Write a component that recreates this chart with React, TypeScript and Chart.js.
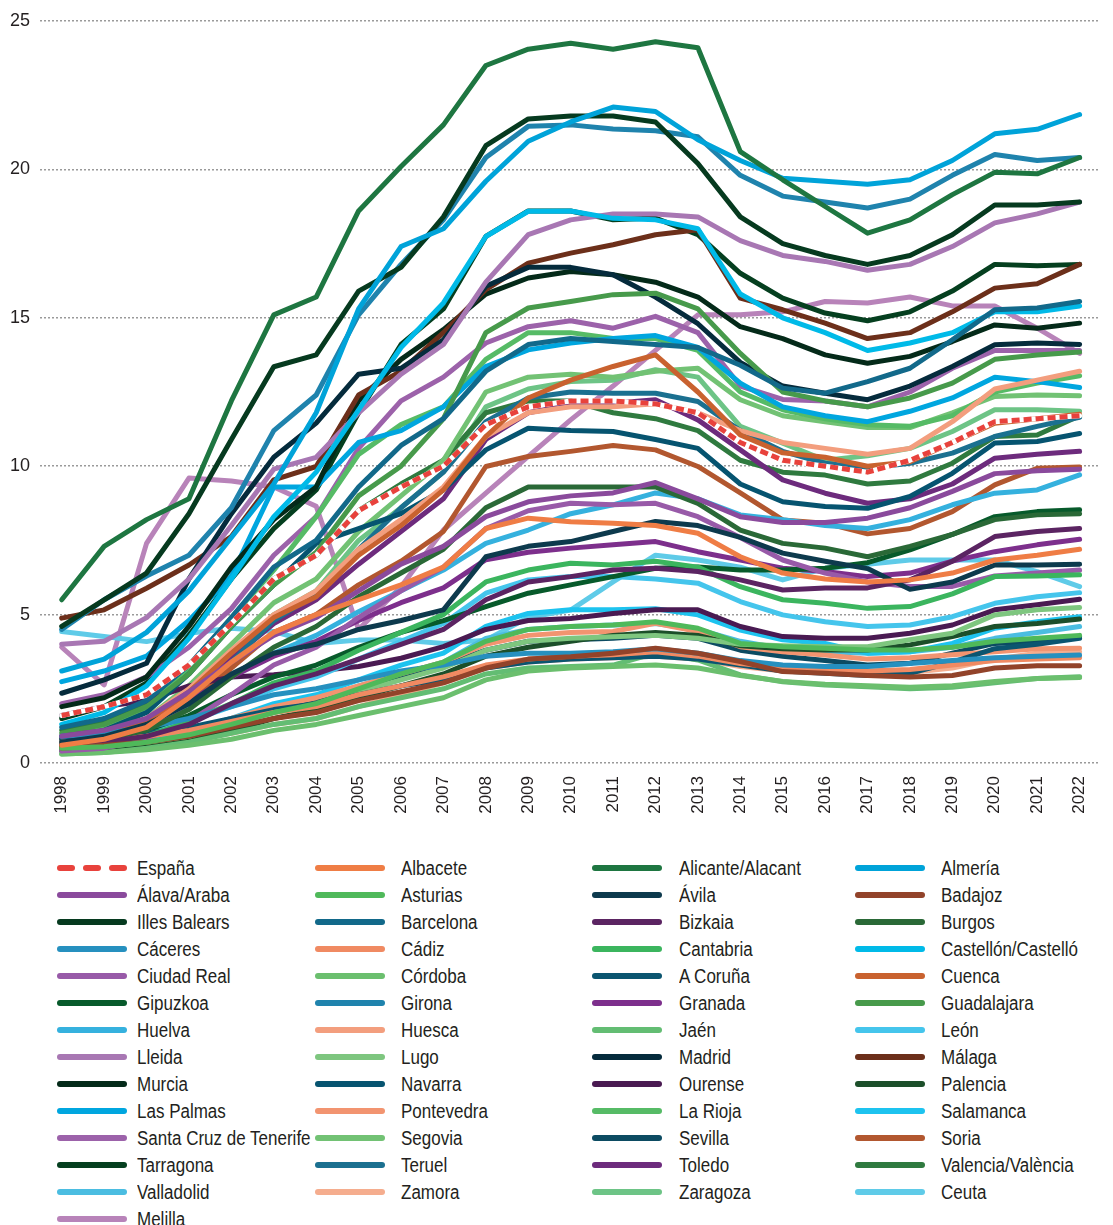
import React, { useEffect, useRef } from "react";
import { Chart, registerables } from "chart.js";

Chart.register(...registerables);

const FONT = "'Liberation Sans', Arial, sans-serif";

const years = [1998, 1999, 2000, 2001, 2002, 2003, 2004, 2005, 2006, 2007, 2008, 2009, 2010, 2011, 2012, 2013, 2014, 2015, 2016, 2017, 2018, 2019, 2020, 2021, 2022];
const yTicks = [0, 5, 10, 15, 20, 25];

const names = [
  "España", "Albacete", "Alicante/Alacant", "Almería",
  "Álava/Araba", "Asturias", "Ávila", "Badajoz",
  "Illes Balears", "Barcelona", "Bizkaia", "Burgos",
  "Cáceres", "Cádiz", "Cantabria", "Castellón/Castelló",
  "Ciudad Real", "Córdoba", "A Coruña", "Cuenca",
  "Gipuzkoa", "Girona", "Granada", "Guadalajara",
  "Huelva", "Huesca", "Jaén", "León",
  "Lleida", "Lugo", "Madrid", "Málaga",
  "Murcia", "Navarra", "Ourense", "Palencia",
  "Las Palmas", "Pontevedra", "La Rioja", "Salamanca",
  "Santa Cruz de Tenerife", "Segovia", "Sevilla", "Soria",
  "Tarragona", "Teruel", "Toledo", "Valencia/València",
  "Valladolid", "Zamora", "Zaragoza", "Ceuta",
  "Melilla",
];

const colors = [
  "#e8423c", "#ef7d45", "#1e7641", "#00a3d9",
  "#8a4a9c", "#4fb95a", "#0d3a4d", "#92432a",
  "#063a1f", "#12698a", "#5b2462", "#2a6937",
  "#2690bf", "#f08a62", "#3bb55e", "#00bae8",
  "#985aa8", "#6bbf6e", "#0b5570", "#c9622f",
  "#075a2b", "#1f83ad", "#7d2f8c", "#479a4b",
  "#35b1de", "#f39e7e", "#63bd73", "#45c5ec",
  "#a877b3", "#7ec67f", "#052b3c", "#6c2f1a",
  "#042a19", "#065470", "#4a1a52", "#1c4f2a",
  "#00a6df", "#f29470", "#56bb66", "#1dc3ef",
  "#9c62aa", "#72c274", "#0c4b62", "#b2572f",
  "#053f1f", "#1b7090", "#6d2b7d", "#2f7a3f",
  "#4bbde1", "#f5ad8e", "#6dc486", "#5fcbe8",
  "#b883b9",
];

const espana = [1.6, 1.9, 2.3, 3.3, 4.7, 6.2, 7.0, 8.5, 9.3, 10.0, 11.4, 12.0, 12.2, 12.2, 12.1, 11.8, 10.8, 10.2, 10.0, 9.8, 10.2, 10.8, 11.5, 11.6, 11.7];
const albacete = [0.6, 0.8, 1.2, 2.2, 3.4, 4.4, 5.0, 5.5, 6.0, 6.6, 7.9, 8.25, 8.13, 8.08, 8.0, 7.74, 6.95, 6.4, 6.2, 6.1, 6.17, 6.4, 6.84, 7.0, 7.2];
const alicante = [5.5, 7.3, 8.2, 8.9, 12.2, 15.1, 15.7, 18.6, 20.1, 21.5, 23.5, 24.05, 24.25, 24.05, 24.3, 24.1, 20.6, 19.65, 18.75, 17.85, 18.3, 19.15, 19.9, 19.85, 20.4];
const almeria = [3.1, 3.5, 4.4, 5.8, 7.6, 9.4, 11.8, 15.3, 17.4, 18.0, 19.6, 20.95, 21.6, 22.1, 21.95, 21.0, 20.3, 19.7, 19.6, 19.5, 19.65, 20.3, 21.2, 21.35, 21.85];
const alava = [0.9, 1.1, 1.5, 2.4, 3.4, 4.3, 4.9, 5.8, 6.7, 7.3, 8.3, 8.8, 9.0, 9.1, 9.45, 8.9, 8.3, 8.1, 8.1, 8.25, 8.6, 9.15, 9.75, 9.85, 9.9];
const asturias = [0.5, 0.55, 0.7, 0.95, 1.3, 1.7, 2.0, 2.5, 3.0, 3.4, 4.1, 4.5, 4.6, 4.65, 4.76, 4.54, 4.03, 3.92, 3.87, 3.81, 3.81, 3.9, 4.1, 4.2, 4.3];
const avila = [0.7, 0.9, 1.3, 2.0, 3.0, 3.7, 4.0, 4.5, 4.8, 5.16, 6.95, 7.3, 7.46, 7.8, 8.14, 8.0, 7.6, 7.07, 6.8, 6.55, 5.85, 6.1, 6.67, 6.67, 6.7];
const badajoz = [0.5, 0.6, 0.7, 0.9, 1.2, 1.5, 1.7, 2.1, 2.4, 2.7, 3.2, 3.5, 3.58, 3.7, 3.87, 3.7, 3.42, 3.08, 3.02, 2.95, 2.9, 2.95, 3.2, 3.28, 3.28];
const balears = [4.6, 5.5, 6.4, 8.4, 10.9, 13.35, 13.75, 15.9, 16.7, 18.4, 20.8, 21.7, 21.8, 21.8, 21.6, 20.2, 18.4, 17.5, 17.1, 16.8, 17.1, 17.8, 18.8, 18.8, 18.9];
const barcelona = [1.2, 1.5, 2.1, 3.3, 4.9, 6.6, 7.5, 9.3, 10.7, 11.6, 13.2, 14.1, 14.3, 14.2, 14.1, 14.0, 13.4, 12.63, 12.46, 12.85, 13.3, 14.26, 15.27, 15.33, 15.55];
const bizkaia = [0.6, 0.7, 0.9, 1.3, 2.0, 2.6, 3.0, 3.5, 4.0, 4.5, 5.5, 6.1, 6.28, 6.5, 6.56, 6.45, 6.17, 5.83, 5.9, 5.9, 6.17, 6.8, 7.63, 7.8, 7.9];
const burgos = [0.6, 0.8, 1.1, 1.8, 2.9, 3.9, 4.6, 5.6, 6.4, 7.2, 8.6, 9.3, 9.3, 9.3, 9.3, 8.75, 7.85, 7.4, 7.24, 6.95, 7.3, 7.7, 8.2, 8.36, 8.4];
const caceres = [0.9, 1.0, 1.2, 1.5, 1.9, 2.3, 2.5, 2.8, 3.1, 3.3, 3.6, 3.7, 3.7, 3.75, 3.85, 3.7, 3.45, 3.3, 3.25, 3.25, 3.35, 3.45, 3.55, 3.6, 3.64];
const cadiz = [0.7, 0.8, 0.9, 1.1, 1.4, 1.7, 1.9, 2.3, 2.6, 2.9, 3.3, 3.5, 3.6, 3.65, 3.75, 3.6, 3.35, 3.2, 3.15, 3.1, 3.15, 3.3, 3.45, 3.5, 3.55];
const cantabria = [0.6, 0.7, 0.9, 1.4, 2.0, 2.7, 3.1, 3.8, 4.4, 5.0, 6.1, 6.5, 6.73, 6.67, 6.8, 6.6, 5.94, 5.5, 5.38, 5.21, 5.27, 5.7, 6.28, 6.3, 6.34];
const castellon = [1.3, 1.7, 2.6, 4.2, 6.2, 8.3, 9.8, 11.9, 14.0, 15.5, 17.74, 18.59, 18.6, 18.35, 18.3, 18.0, 15.8, 15.0, 14.5, 13.9, 14.15, 14.5, 15.2, 15.2, 15.4];
const ciudadReal = [0.4, 0.5, 0.8, 1.4, 2.3, 3.3, 3.9, 4.9, 5.8, 6.6, 7.9, 8.5, 8.75, 8.7, 8.75, 8.3, 7.6, 6.84, 6.4, 6.1, 5.95, 5.95, 6.3, 6.4, 6.5];
const cordoba = [0.3, 0.35, 0.45, 0.6, 0.8, 1.1, 1.3, 1.6, 1.9, 2.2, 2.8, 3.1, 3.2, 3.25, 3.3, 3.2, 2.95, 2.75, 2.65, 2.6, 2.55, 2.6, 2.75, 2.85, 2.88];
const coruna = [0.8, 0.9, 1.0, 1.2, 1.5, 1.8, 2.0, 2.3, 2.6, 2.8, 3.2, 3.4, 3.5, 3.55, 3.6, 3.5, 3.3, 3.1, 3.02, 2.95, 3.02, 3.4, 3.85, 4.0, 4.2];
const cuenca = [0.8, 1.0, 1.4, 2.4, 3.7, 4.9, 5.6, 7.0, 8.0, 9.2, 11.0, 12.3, 12.9, 13.36, 13.75, 12.5, 11.05, 10.45, 10.3, 10.0, 10.15, 10.8, 11.45, 11.6, 11.75];
const gipuzkoa = [0.7, 0.9, 1.1, 1.6, 2.3, 2.9, 3.3, 3.9, 4.4, 4.8, 5.27, 5.72, 6.0, 6.28, 6.56, 6.6, 6.5, 6.5, 6.56, 6.75, 7.18, 7.7, 8.3, 8.47, 8.53];
const girona = [4.5, 5.5, 6.3, 7.0, 8.6, 11.2, 12.4, 15.1, 16.8, 18.3, 20.4, 21.45, 21.5, 21.36, 21.3, 21.1, 19.8, 19.1, 18.9, 18.7, 19.0, 19.8, 20.5, 20.3, 20.4];
const granada = [0.9, 1.1, 1.4, 2.1, 2.9, 3.6, 4.1, 4.8, 5.4, 5.9, 6.85, 7.1, 7.24, 7.35, 7.46, 7.12, 6.84, 6.56, 6.45, 6.28, 6.4, 6.8, 7.12, 7.35, 7.54];
const guadalajara = [1.0, 1.3, 1.9, 3.0, 4.6, 6.0, 7.1, 9.0, 10.0, 11.6, 14.5, 15.33, 15.55, 15.78, 15.83, 15.3, 13.8, 12.5, 12.2, 12.0, 12.3, 12.8, 13.6, 13.75, 13.85];
const huelva = [0.8, 1.0, 1.3, 2.0, 2.9, 3.7, 4.3, 5.1, 5.8, 6.5, 7.4, 7.85, 8.4, 8.7, 9.1, 8.9, 8.36, 8.2, 8.0, 7.9, 8.2, 8.7, 9.09, 9.2, 9.71];
const huesca = [0.7, 1.0, 1.5, 2.5, 3.8, 5.0, 5.8, 7.2, 8.2, 9.3, 11.0, 11.8, 12.0, 12.0, 12.1, 11.8, 11.2, 10.8, 10.6, 10.4, 10.6, 11.5, 12.6, 12.9, 13.2];
const jaen = [0.3, 0.35, 0.5, 0.7, 1.0, 1.3, 1.5, 1.9, 2.2, 2.5, 3.0, 3.2, 3.25, 3.3, 3.7, 3.47, 2.97, 2.74, 2.63, 2.57, 2.5, 2.55, 2.7, 2.85, 2.91];
const leon = [0.7, 0.8, 1.0, 1.4, 1.9, 2.5, 2.9, 3.5, 4.1, 4.7, 5.72, 6.17, 6.28, 6.28, 6.2, 6.06, 5.44, 4.99, 4.76, 4.6, 4.65, 4.93, 5.38, 5.6, 5.74];
const lleida = [4.0, 4.1, 4.9, 6.2, 8.0, 9.9, 10.3, 11.8, 13.1, 14.1, 16.2, 17.8, 18.3, 18.5, 18.5, 18.4, 17.6, 17.1, 16.9, 16.6, 16.8, 17.4, 18.2, 18.5, 18.9];
const lugo = [0.5, 0.55, 0.7, 0.9, 1.3, 1.7, 2.0, 2.4, 2.8, 3.2, 3.8, 4.1, 4.2, 4.25, 4.3, 4.2, 4.0, 3.95, 3.92, 3.92, 4.15, 4.37, 4.99, 5.16, 5.24];
const madrid = [2.35, 2.8, 3.36, 6.2, 8.4, 10.3, 11.45, 13.1, 13.3, 14.26, 16.06, 16.7, 16.7, 16.45, 15.7, 14.8, 13.5, 12.7, 12.46, 12.24, 12.7, 13.36, 14.09, 14.15, 14.1];
const malaga = [4.88, 5.16, 5.89, 6.67, 7.63, 9.54, 9.99, 12.4, 13.2, 14.5, 15.95, 16.84, 17.18, 17.46, 17.8, 17.97, 15.66, 15.27, 14.82, 14.3, 14.5, 15.2, 16.0, 16.15, 16.8];
const murcia = [1.9, 2.2, 2.9, 4.6, 6.6, 8.2, 9.3, 12.2, 13.6, 14.6, 15.8, 16.34, 16.56, 16.45, 16.2, 15.7, 14.7, 14.3, 13.75, 13.47, 13.7, 14.2, 14.76, 14.65, 14.82];
const navarra = [0.8, 1.1, 1.7, 3.0, 4.6, 6.0, 7.4, 7.9, 8.4, 9.2, 10.55, 11.28, 11.2, 11.17, 10.9, 10.6, 9.4, 8.8, 8.64, 8.58, 8.98, 9.76, 10.78, 10.83, 11.1];
const ourense = [1.6, 1.9, 2.1, 2.6, 2.9, 2.97, 3.1, 3.25, 3.53, 3.92, 4.5, 4.8, 4.87, 5.04, 5.16, 5.16, 4.6, 4.26, 4.2, 4.2, 4.37, 4.65, 5.16, 5.33, 5.52];
const palencia = [0.4, 0.5, 0.6, 0.8, 1.1, 1.5, 1.8, 2.2, 2.6, 3.0, 3.6, 3.9, 4.1, 4.3, 4.4, 4.3, 3.95, 3.85, 3.81, 3.81, 3.98, 4.26, 4.6, 4.7, 4.85];
const lasPalmas = [2.74, 3.1, 3.6, 4.8, 6.3, 9.3, 9.3, 10.8, 11.2, 12.0, 13.36, 13.92, 14.15, 14.3, 14.4, 14.0, 12.8, 12.0, 11.7, 11.5, 11.85, 12.3, 13.0, 12.85, 12.65];
const pontevedra = [0.6, 0.7, 0.9, 1.1, 1.5, 1.9, 2.2, 2.6, 3.0, 3.4, 4.0, 4.3, 4.4, 4.43, 4.71, 4.43, 3.92, 3.75, 3.64, 3.5, 3.55, 3.65, 3.75, 3.85, 3.87];
const rioja = [0.9, 1.2, 1.8, 3.2, 4.9, 6.5, 8.3, 10.4, 11.4, 12.0, 13.6, 14.5, 14.5, 14.3, 14.3, 13.9, 12.5, 11.9, 11.6, 11.4, 11.35, 11.7, 12.5, 12.8, 13.05];
const salamanca = [0.5, 0.6, 0.8, 1.1, 1.5, 2.0, 2.3, 2.8, 3.3, 3.7, 4.6, 5.04, 5.16, 5.16, 5.2, 4.99, 4.48, 4.15, 4.03, 3.7, 3.75, 4.03, 4.54, 4.76, 4.93];
const tenerife = [2.0, 2.3, 2.9, 3.9, 5.2, 7.0, 8.3, 10.6, 12.2, 13.0, 14.15, 14.7, 14.9, 14.65, 15.05, 14.5, 12.7, 12.25, 12.2, 12.0, 12.5, 13.3, 13.9, 13.9, 13.9];
const segovia = [0.8, 1.0, 1.5, 2.6, 4.0, 5.4, 6.2, 7.8, 9.0, 10.2, 12.5, 13.0, 13.1, 13.0, 13.2, 13.3, 12.24, 11.7, 11.5, 11.3, 11.3, 11.8, 12.35, 12.4, 12.37];
const sevilla = [0.5, 0.6, 0.8, 1.0, 1.4, 1.8, 2.1, 2.5, 2.9, 3.3, 3.8, 4.1, 4.15, 4.2, 4.3, 4.2, 3.8, 3.6, 3.45, 3.3, 3.36, 3.7, 4.03, 4.09, 4.26];
const soria = [0.6, 0.8, 1.2, 2.0, 3.2, 4.4, 5.0, 6.0, 6.8, 7.8, 9.99, 10.33, 10.5, 10.7, 10.55, 9.99, 9.1, 8.19, 8.08, 7.72, 7.9, 8.47, 9.37, 9.93, 9.97];
const tarragona = [1.5, 1.9, 2.7, 4.3, 6.2, 7.9, 9.2, 11.8, 14.1, 15.3, 17.74, 18.6, 18.6, 18.3, 18.36, 17.8, 16.5, 15.66, 15.16, 14.9, 15.2, 15.9, 16.8, 16.75, 16.8];
const teruel = [0.5, 0.7, 1.1, 2.0, 3.4, 4.8, 5.7, 7.2, 8.6, 9.8, 11.5, 12.3, 12.5, 12.46, 12.46, 12.18, 11.2, 10.5, 10.1, 9.93, 10.1, 10.44, 11.0, 11.34, 11.65];
const toledo = [0.8, 1.0, 1.4, 2.3, 3.5, 4.7, 5.5, 6.7, 7.8, 8.9, 10.9, 11.8, 12.07, 12.12, 12.24, 11.56, 10.55, 9.54, 9.09, 8.75, 8.9, 9.4, 10.27, 10.4, 10.5];
const valencia = [1.1, 1.4, 2.0, 3.2, 4.7, 6.2, 7.0, 8.5, 9.4, 10.2, 11.8, 12.2, 12.2, 11.8, 11.6, 11.2, 10.2, 9.8, 9.7, 9.4, 9.5, 10.1, 11.0, 11.05, 11.7];
const valladolid = [0.5, 0.6, 0.7, 1.0, 1.4, 1.8, 2.1, 2.6, 3.0, 3.4, 4.2, 4.5, 4.6, 4.65, 4.7, 4.5, 4.1, 3.85, 3.75, 3.7, 3.75, 3.9, 4.2, 4.4, 4.6];
const zamora = [0.5, 0.55, 0.6, 0.75, 1.0, 1.3, 1.5, 1.9, 2.3, 2.7, 3.2, 3.4, 3.5, 3.55, 3.6, 3.5, 3.25, 3.1, 3.05, 3.0, 3.05, 3.2, 3.5, 3.7, 3.75];
const zaragoza = [0.6, 0.8, 1.2, 2.2, 3.6, 5.0, 5.8, 7.5, 8.6, 9.8, 12.0, 12.6, 12.85, 12.9, 13.25, 13.0, 11.34, 10.78, 10.2, 10.35, 10.6, 11.17, 11.9, 11.9, 11.85];
const ceuta = [4.43, 4.26, 4.09, 4.37, 4.54, 4.43, 4.03, 4.14, 4.14, 4.03, 4.14, 4.9, 5.15, 6.1, 7.0, 6.84, 6.6, 6.17, 6.56, 6.7, 6.84, 6.84, 6.84, 6.45, 5.94];
const melilla = [3.9, 2.63, 7.4, 9.6, 9.5, 9.3, 8.65, 4.5, 5.94, 7.85, 9.09, 10.33, 11.56, 12.7, 13.9, 15.1, 15.1, 15.2, 15.55, 15.5, 15.7, 15.4, 15.4, 14.65, 13.8];

const seriesValues = [
  espana, albacete, alicante, almeria,
  alava, asturias, avila, badajoz,
  balears, barcelona, bizkaia, burgos,
  caceres, cadiz, cantabria, castellon,
  ciudadReal, cordoba, coruna, cuenca,
  gipuzkoa, girona, granada, guadalajara,
  huelva, huesca, jaen, leon,
  lleida, lugo, madrid, malaga,
  murcia, navarra, ourense, palencia,
  lasPalmas, pontevedra, rioja, salamanca,
  tenerife, segovia, sevilla, soria,
  tarragona, teruel, toledo, valencia,
  valladolid, zamora, zaragoza, ceuta,
  melilla,
];

const toPoints = (vals: number[]) => vals.map((v, i) => ({ x: years[i], y: v }));

const SWATCH_LEFT = [57, 315, 592, 855];
const TEXT_LEFT = [137, 401, 679, 941];
const ROW0 = 868.3;
const ROW_STEP = 27;

function LegendItem({ index }: { index: number }) {
  const r = Math.floor(index / 4);
  const c = index % 4;
  const cy = ROW0 + r * ROW_STEP;
  const isDashed = index === 0;
  return (
    <>
      {isDashed ? (
        [0, 26, 52].map((off) => (
          <div
            key={off}
            style={{
              position: "absolute",
              left: SWATCH_LEFT[c] + off,
              top: cy - 3,
              width: 18,
              height: 6,
              borderRadius: 3,
              background: colors[index],
            }}
          />
        ))
      ) : (
        <div
          style={{
            position: "absolute",
            left: SWATCH_LEFT[c],
            top: cy - 3,
            width: 70,
            height: 6,
            borderRadius: 3,
            background: colors[index],
          }}
        />
      )}
      <div
        style={{
          position: "absolute",
          left: TEXT_LEFT[c],
          top: cy - 11,
          height: 22,
          lineHeight: "22px",
          fontSize: 20,
          color: "#231f20",
          whiteSpace: "nowrap",
          transform: "scaleX(0.85)",
          transformOrigin: "left center",
        }}
      >
        {names[index]}
      </div>
    </>
  );
}

export default function App() {
  const canvasRef = useRef<HTMLCanvasElement | null>(null);

  useEffect(() => {
    const canvas = canvasRef.current;
    if (!canvas) return;

    const datasets: any[] = [];
    seriesValues.forEach((vals, i) => {
      if (i === 0) {
        datasets.push({
          label: names[0],
          data: toPoints(vals),
          borderColor: colors[0],
          borderWidth: 5,
          borderDash: [8, 4],
          borderCapStyle: "butt",
          order: 0,
        });
        datasets.push({
          label: "España-fondo",
          data: toPoints(vals),
          borderColor: "#ffffff",
          borderWidth: 5,
          order: 1,
        });
      } else {
        datasets.push({
          label: names[i],
          data: toPoints(vals),
          borderColor: colors[i],
          borderWidth: 5,
          order: 2 + i,
        });
      }
    });

    const chart = new Chart(canvas, {
      type: "line",
      data: { datasets },
      options: {
        animation: false,
        responsive: false,
        maintainAspectRatio: false,
        layout: { padding: { top: 21, right: 0, left: 0, bottom: 0 } },
        plugins: { legend: { display: false }, tooltip: { enabled: false } },
        elements: {
          point: { radius: 0, hoverRadius: 0 },
          line: { tension: 0, borderJoinStyle: "round", borderCapStyle: "round", fill: false },
        },
        scales: {
          x: {
            type: "linear",
            min: 1997.488,
            max: 2022.442,
            grid: { display: false, drawTicks: false },
            border: { display: false },
            afterBuildTicks: (axis: any) => {
              axis.ticks = years.map((v) => ({ value: v }));
            },
            afterFit: (axis: any) => {
              axis.height = 57;
            },
            ticks: {
              autoSkip: false,
              minRotation: 90,
              maxRotation: 90,
              padding: 13,
              color: "#231f20",
              font: { family: FONT, size: 17 },
              callback: (v: any) => String(v),
            },
          },
          y: {
            min: 0,
            max: 25,
            afterBuildTicks: (axis: any) => {
              axis.ticks = yTicks.map((v) => ({ value: v }));
            },
            afterFit: (axis: any) => {
              axis.width = 40;
            },
            grid: { color: "#9a9a9a", lineWidth: 1.5, drawTicks: false },
            border: { display: false, dash: [2, 2] },
            ticks: {
              padding: 10,
              color: "#231f20",
              font: { family: FONT, size: 18 },
              callback: (v: any) => String(v),
            },
          },
        },
      } as any,
    });

    return () => {
      chart.destroy();
    };
  }, []);

  return (
    <div
      style={{
        position: "absolute",
        left: 0,
        top: 0,
        width: 1113,
        height: 1225,
        background: "#ffffff",
        fontFamily: FONT,
        overflow: "hidden",
      }}
    >
      <canvas
        ref={canvasRef}
        width={1113}
        height={820}
        style={{ position: "absolute", left: 0, top: 0, width: 1113, height: 820 }}
      />
      {names.map((_, i) => (
        <LegendItem key={i} index={i} />
      ))}
    </div>
  );
}
